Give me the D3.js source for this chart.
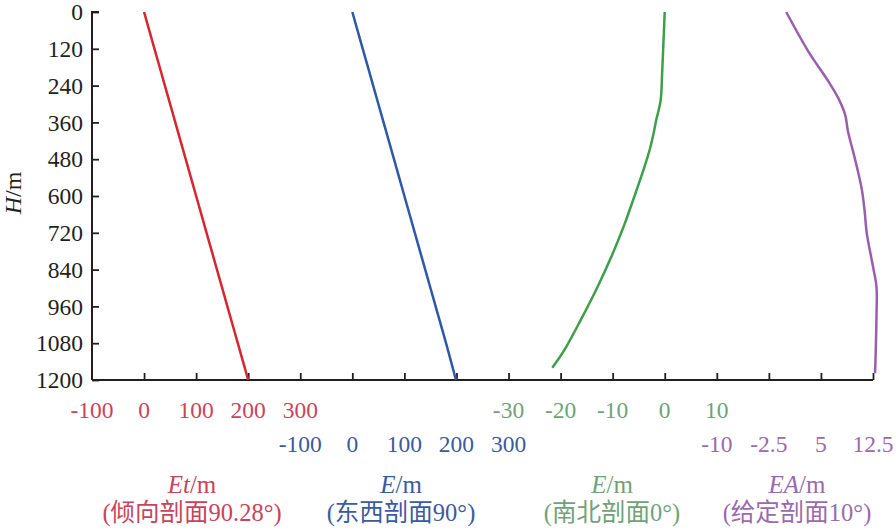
<!DOCTYPE html>
<html>
<head>
<meta charset="utf-8">
<script src="https://cdn.jsdelivr.net/npm/d3@7"></script>
<style>
  body { margin: 0; background: #fff; }
  svg text { font-family: "Liberation Serif", "Noto Sans CJK SC", serif; }
</style>
</head>
<body>
<svg id="chart" width="896" height="532"></svg>
<script>
// depth ticks (m)
const depthTicks = [0, 120, 240, 360, 480, 600, 720, 840, 960, 1080, 1200];

// inclined profile 90.28 deg
const etDepth = [0, 120, 240, 360, 480, 600, 720, 840, 960, 1080, 1200];
const etValues = [0, 20, 40, 60, 80, 100, 120, 140, 160, 180, 200];

// east-west profile 90 deg
const ewDepth = [0, 120, 240, 360, 480, 600, 720, 840, 960, 1080, 1200];
const ewValues = [0, 20, 40, 60, 80, 100, 120, 140, 160, 180, 199];

// north-south profile 0 deg
const nsDepth = [0, 100, 200, 290, 350, 400, 450, 500, 600, 700, 800, 900, 1000, 1100, 1160];
const nsValues = [0, -0.25, -0.5, -0.8, -1.6, -2.2, -2.9, -3.8, -5.8, -7.9, -10.3, -13, -16, -19.2, -21.6];

// given profile 10 deg
const eaDepth = [0, 129, 227, 281, 336, 390, 461, 526, 580, 650, 721, 830, 896, 994, 1100, 1178];
const eaValues = [0, 3.2, 6.1, 7.5, 8.5, 8.9, 9.7, 10.4, 10.9, 11.3, 11.6, 12.5, 13.0, 13.0, 12.9, 12.8];

// tick labels of each sub axis
const etTicks = [-100, 0, 100, 200, 300];
const ewTicks = [-100, 0, 100, 200, 300];
const nsTicks = [-30, -20, -10, 0, 10];
const eaTicks = [-10, -2.5, 5, 12.5];

const svg = d3.select("#chart");
const axisColor = "#231f20";

// common slot scale along the bottom axis
const slot = d3.scaleLinear().domain([0, 15]).range([92, 873]);
const y = d3.scaleLinear().domain([0, 1200]).range([12, 380]);

const series = [
  { depth: etDepth, values: etValues, ticks: etTicks, domain: [-100, 300], slots: [0, 4],
    line: "#d6262f", label: "#c9435b", row: 418, title: ["Et", "/m"], sub: "(倾向剖面90.28°)", cx: 192 },
  { depth: ewDepth, values: ewValues, ticks: ewTicks, domain: [-100, 300], slots: [4, 8],
    line: "#2d59a6", label: "#3b5b9d", row: 452, title: ["E", "/m"], sub: "(东西剖面90°)", cx: 401 },
  { depth: nsDepth, values: nsValues, ticks: nsTicks, domain: [-30, 10], slots: [8, 12],
    line: "#3e9f4a", label: "#6fa27a", row: 418, title: ["E", "/m"], sub: "(南北剖面0°)", cx: 612 },
  { depth: eaDepth, values: eaValues, ticks: eaTicks, domain: [-10, 12.5], slots: [12, 15],
    line: "#9a5eae", label: "#9a6aae", row: 452, title: ["EA", "/m"], sub: "(给定剖面10°)", cx: 797 }
];

// y axis (ticks pointing inward)
const yAxis = d3.axisRight(y).tickValues(depthTicks).tickSize(7).tickFormat("");
svg.append("g")
  .attr("transform", `translate(${slot(0)},0)`)
  .call(yAxis)
  .call(g => g.select(".domain").attr("stroke", axisColor).attr("stroke-width", 2)
    .attr("d", `M7,${y(0)}H0V${y(1200)}`))
  .call(g => g.selectAll(".tick line").attr("stroke", axisColor).attr("stroke-width", 1.8));

svg.append("g")
  .selectAll("text")
  .data(depthTicks)
  .join("text")
  .attr("x", 83)
  .attr("y", d => y(d))
  .attr("dy", "0.35em")
  .attr("text-anchor", "end")
  .attr("font-size", 23.5)
  .attr("fill", axisColor)
  .text(d => d);

// H/m
svg.append("text")
  .attr("transform", `translate(21,193) rotate(-90)`)
  .attr("text-anchor", "middle")
  .attr("font-size", 24)
  .attr("fill", axisColor)
  .call(t => {
    t.append("tspan").attr("font-style", "italic").text("H");
    t.append("tspan").text("/m");
  });

// bottom axis
const xAxis = d3.axisTop(slot).tickValues(d3.range(1, 16)).tickSize(7).tickFormat("");
svg.append("g")
  .attr("transform", `translate(0,${y(1200)})`)
  .call(xAxis)
  .call(g => g.select(".domain").attr("stroke", axisColor).attr("stroke-width", 2)
    .attr("d", `M${slot(0)},0H${slot(15)}`))
  .call(g => g.selectAll(".tick line").attr("stroke", axisColor).attr("stroke-width", 1.8));

const curve = d3.curveCatmullRom.alpha(0.5);

series.forEach(s => {
  const x = d3.scaleLinear().domain(s.domain).range([slot(s.slots[0]), slot(s.slots[1])]);
  const pts = s.depth.map((d, i) => [s.values[i], d]);

  svg.append("path")
    .datum(pts)
    .attr("fill", "none")
    .attr("stroke", s.line)
    .attr("stroke-width", 2.5)
    .attr("d", d3.line().x(d => x(d[0])).y(d => y(d[1])).curve(curve));

  svg.append("g")
    .selectAll("text")
    .data(s.ticks)
    .join("text")
    .attr("x", d => x(d))
    .attr("y", s.row)
    .attr("text-anchor", "middle")
    .attr("font-size", 23.5)
    .attr("fill", s.label)
    .text(d => d);

  svg.append("text")
    .attr("x", s.cx)
    .attr("y", 493)
    .attr("text-anchor", "middle")
    .attr("font-size", 25)
    .attr("fill", s.label)
    .call(t => {
      t.append("tspan").attr("font-style", "italic").text(s.title[0]);
      t.append("tspan").text(s.title[1]);
    });

  svg.append("text")
    .attr("x", s.cx)
    .attr("y", 521)
    .attr("text-anchor", "middle")
    .attr("font-size", 24.5)
    .attr("fill", s.label)
    .text(s.sub);
});
</script>
</body>
</html>
